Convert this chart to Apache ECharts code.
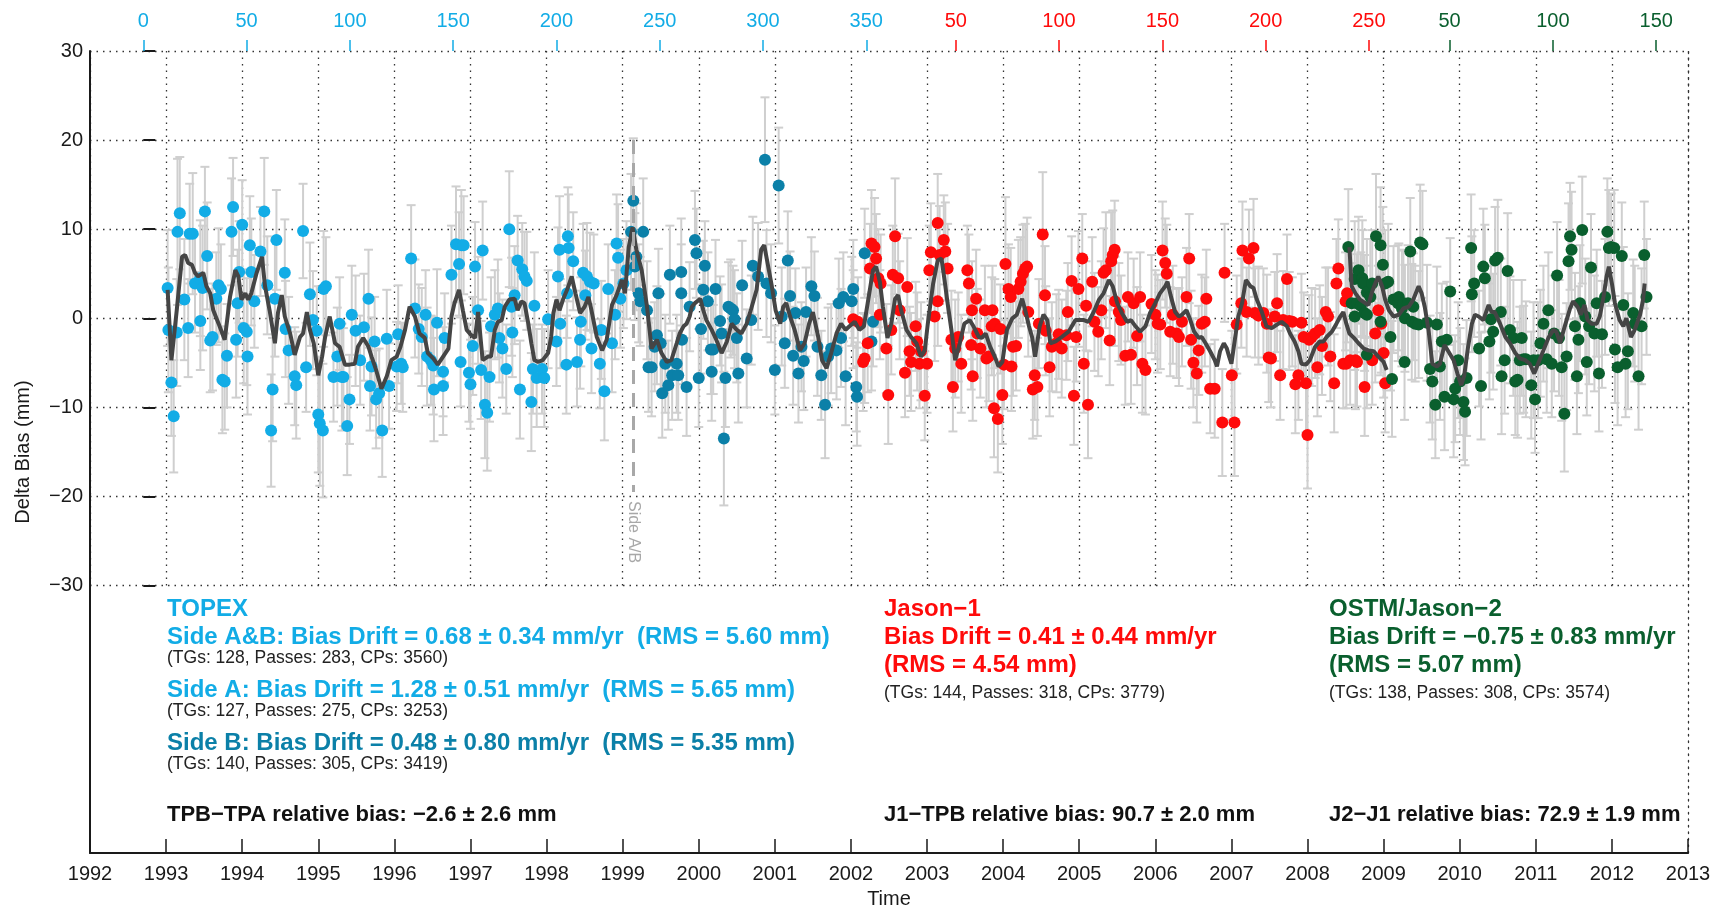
<!DOCTYPE html>
<html>
<head>
<meta charset="utf-8">
<script src="https://cdn.jsdelivr.net/npm/echarts@6/dist/echarts.min.js"></script>
<style>html,body{margin:0;background:#fff}#chart{width:1719px;height:910px}</style>
</head>
<body>
<div id="chart"></div>
<script>
// [year, delta bias (mm), error half-width (mm)]
const topexA = [[1993.02,3.4,6.5],[1993.03,-1.3,7.0],[1993.07,-7.2,6.0],[1993.10,-11.0,6.3],[1993.14,-1.6,6.0],[1993.15,9.7,8.2],[1993.18,11.8,6.3],[1993.24,2.1,6.8],[1993.29,-1.1,5.5],[1993.31,9.5,5.6],[1993.35,9.5,6.8],[1993.38,3.9,5.5],[1993.45,4.5,6.5],[1993.45,-0.3,5.5],[1993.48,3.4,7.0],[1993.51,12.0,5.0],[1993.54,7.0,6.0],[1993.58,-2.5,5.8],[1993.61,-2.1,6.0],[1993.66,2.2,5.2],[1993.69,3.7,6.4],[1993.72,3.3,5.0],[1993.74,-6.9,6.0],[1993.77,-7.1,5.4],[1993.80,-4.2,5.8],[1993.86,9.7,6.0],[1993.88,12.5,5.5],[1993.92,-2.4,6.5],[1993.94,1.7,6.0],[1993.96,5.2,5.7],[1994.00,10.5,5.0],[1994.02,-1.1,6.2],[1994.06,-1.5,6.0],[1994.07,-4.3,6.5],[1994.10,8.2,5.5],[1994.12,5.2,6.0],[1994.16,1.9,5.2],[1994.24,7.5,5.0],[1994.29,12.0,6.0],[1994.33,3.7,5.5],[1994.38,-12.6,6.3],[1994.40,-8.0,5.8],[1994.43,2.2,6.5],[1994.45,8.8,5.6],[1994.56,5.1,6.0],[1994.57,-1.2,5.4],[1994.61,-3.6,6.0],[1994.69,-6.5,5.5],[1994.71,-7.5,6.0],[1994.80,9.8,5.3],[1994.84,-5.5,5.0],[1994.89,2.7,5.8],[1994.93,-0.2,5.5],[1994.98,-1.4,5.0],[1995.00,-10.8,6.5],[1995.02,-11.8,7.0],[1995.06,-12.6,7.5],[1995.07,3.3,6.5],[1995.10,3.6,5.5],[1995.20,-6.6,5.0],[1995.25,-4.3,5.5],[1995.28,-0.6,5.2],[1995.31,-6.6,6.0],[1995.33,-6.6,5.5],[1995.38,-12.1,5.5],[1995.41,-9.1,5.0],[1995.44,0.4,5.5],[1995.49,-1.4,6.2],[1995.55,-4.7,5.0],[1995.60,-1.0,6.0],[1995.66,2.2,5.5],[1995.68,-7.6,5.0],[1995.70,-5.4,5.5],[1995.74,-2.6,5.0],[1995.76,-9.1,5.5],[1995.80,-8.4,5.0],[1995.84,-12.6,5.2],[1995.90,-2.3,5.5],[1995.93,-7.6,4.8],[1996.03,-5.4,5.0],[1996.05,-1.8,5.5],[1996.09,-5.1,4.5],[1996.11,-5.5,5.0],[1996.22,6.7,6.0],[1996.27,1.1,5.5],[1996.32,-1.2,5.0],[1996.36,-2.1,5.5],[1996.41,0.4,5.0],[1996.43,-4.3,5.5],[1996.48,-4.7,5.0],[1996.51,-5.3,5.5],[1996.52,-8.0,5.8],[1996.56,-0.5,6.0],[1996.64,-6.0,5.0],[1996.64,-7.6,5.5],[1996.66,-2.2,5.0],[1996.75,4.9,5.5],[1996.81,8.3,6.5],[1996.85,6.1,5.8],[1996.87,-4.9,5.0],[1996.88,8.2,6.2],[1996.91,8.2,5.5],[1996.98,-6.1,5.5],[1997.00,-7.4,5.0],[1997.03,-3.1,5.5],[1997.06,5.8,5.0],[1997.10,0.9,6.0],[1997.14,-5.8,5.5],[1997.16,7.6,5.5],[1997.19,-9.7,6.0],[1997.22,-10.6,6.5],[1997.25,-6.6,5.0],[1997.27,-0.9,5.5],[1997.32,0.4,5.0],[1997.36,1.1,5.5],[1997.38,-2.2,5.0],[1997.42,-3.4,5.5],[1997.47,-5.7,5.0],[1997.51,10.0,6.5],[1997.54,1.3,5.5],[1997.55,-1.6,5.0],[1997.58,2.6,5.5],[1997.62,6.5,5.0],[1997.65,-8.0,5.5],[1997.68,5.5,5.2],[1997.71,4.7,5.0],[1997.74,4.2,5.5],[1997.80,-9.4,5.5],[1997.82,-5.7,5.0],[1997.84,1.4,6.0],[1997.87,-6.7,5.5],[1997.94,-5.7,5.0],[1997.97,-6.7,5.5],[1998.02,-0.1,5.5],[1998.13,-2.6,5.0],[1998.15,4.7,5.5],[1998.17,7.7,6.0],[1998.18,-0.6,5.0],[1998.26,-5.2,5.5],[1998.27,2.8,5.0],[1998.28,9.2,5.5],[1998.29,7.9,6.0],[1998.35,6.4,5.5],[1998.40,-4.9,5.0],[1998.44,-2.4,5.5],[1998.45,-0.4,5.0],[1998.48,5.1,5.5],[1998.51,2.6,5.0],[1998.53,4.7,6.0],[1998.57,4.1,5.5],[1998.59,-3.4,5.0],[1998.62,3.9,5.5],[1998.70,-5.1,5.0],[1998.72,-1.3,5.5],[1998.76,-8.2,5.5],[1998.81,3.3,5.0],[1998.86,-2.8,5.5],[1998.90,0.4,5.0],[1998.92,8.4,5.5],[1998.94,6.8,6.0],[1998.97,2.2,5.5],[1999.01,3.9,5.0],[1999.05,5.4,5.5]];

const topexB = [[1999.11,9.7,6.5],[1999.14,13.2,7.0],[1999.16,5.8,6.0],[1999.18,6.9,6.0],[1999.21,2.8,5.5],[1999.23,1.9,5.0],[1999.27,9.7,6.0],[1999.32,0.9,5.5],[1999.34,-5.5,5.0],[1999.38,-5.5,5.5],[1999.42,-3.2,5.0],[1999.45,-1.9,5.5],[1999.47,2.8,5.0],[1999.50,-2.8,5.5],[1999.52,-8.4,5.0],[1999.56,-5.1,5.5],[1999.60,-7.5,5.0],[1999.62,4.9,5.5],[1999.65,-6.4,5.0],[1999.71,-5.1,5.5],[1999.73,-6.4,5.0],[1999.77,5.2,6.0],[1999.77,2.8,5.5],[1999.78,-2.4,5.0],[1999.84,-7.7,5.5],[1999.88,1.3,5.0],[1999.95,8.8,5.5],[1999.97,7.3,5.0],[2000.00,-6.7,5.5],[2000.03,-1.2,5.0],[2000.06,3.2,5.5],[2000.08,5.9,5.0],[2000.12,1.9,5.5],[2000.16,-3.5,5.0],[2000.17,-6.0,5.5],[2000.19,-3.5,5.0],[2000.22,3.3,5.5],[2000.28,-0.3,5.0],[2000.30,-1.7,5.5],[2000.33,-13.5,7.5],[2000.35,-6.7,5.5],[2000.39,1.3,5.0],[2000.42,1.1,5.5],[2000.45,0.9,5.0],[2000.47,-0.1,5.5],[2000.50,-2.2,5.0],[2000.52,-6.2,5.5],[2000.57,3.7,5.0],[2000.63,-4.5,5.5],[2000.69,-0.2,5.0],[2000.71,5.9,5.5],[2000.78,4.7,6.0],[2000.87,17.8,7.0],[2000.89,3.9,6.0],[2000.95,2.8,5.5],[2001.00,-5.8,5.0],[2001.05,14.9,6.5],[2001.09,0.2,5.5],[2001.13,-2.8,5.0],[2001.17,6.5,5.5],[2001.20,2.5,5.0],[2001.24,-4.2,5.5],[2001.27,0.6,5.0],[2001.31,-6.2,5.5],[2001.35,-3.2,5.0],[2001.38,-4.8,5.5],[2001.41,0.7,5.0],[2001.48,3.6,5.5],[2001.52,2.5,5.0],[2001.56,-3.2,5.5],[2001.61,-6.4,5.0],[2001.66,-9.7,6.0],[2001.70,-4.3,5.5],[2001.74,-3.4,5.0],[2001.81,-3.6,5.5],[2001.84,1.7,5.0],[2001.87,-2.2,5.5],[2001.90,2.4,5.0],[2001.93,-6.5,5.5],[2002.01,1.9,5.0],[2002.03,3.3,5.5],[2002.07,-7.7,5.0],[2002.08,-8.8,5.5],[2002.18,7.3,5.0],[2002.27,-2.6,5.5],[2002.29,-0.4,5.0]];

const jason1 = [[2002.03,-0.1,5.5],[2002.09,-0.4,5.0],[2002.16,-4.9,5.5],[2002.18,-4.5,5.0],[2002.22,-2.8,5.5],[2002.25,5.6,5.0],[2002.27,8.4,6.0],[2002.31,8.0,5.5],[2002.33,6.7,5.0],[2002.36,4.5,5.5],[2002.38,0.4,5.0],[2002.39,3.9,5.5],[2002.465,-3.4,5.0],[2002.49,-8.6,5.5],[2002.53,-1.3,5.0],[2002.55,4.9,5.5],[2002.58,9.2,6.5],[2002.62,4.5,5.0],[2002.64,0.9,5.5],[2002.71,-6.1,5.0],[2002.74,3.5,5.5],[2002.77,-3.7,5.0],[2002.79,-4.9,5.5],[2002.85,-0.9,5.0],[2002.87,-2.6,5.5],[2002.90,-5.1,5.0],[2002.92,-3.7,5.5],[2002.97,-8.7,5.0],[2003.00,-5.1,5.5],[2003.03,5.4,5.0],[2003.05,7.4,5.5],[2003.10,0.2,5.0],[2003.14,10.7,5.5],[2003.14,1.9,5.0],[2003.165,7.1,5.5],[2003.22,8.8,5.0],[2003.24,7.5,5.5],[2003.27,5.6,5.0],[2003.32,-2.4,5.5],[2003.34,-7.7,5.0],[2003.37,-3.4,5.5],[2003.41,-2.1,5.0],[2003.45,-5.1,5.5],[2003.53,5.4,5.0],[2003.55,3.9,5.5],[2003.58,-3.0,5.0],[2003.59,0.9,5.5],[2003.60,-6.5,5.0],[2003.645,2.2,5.5],[2003.66,-1.7,5.0],[2003.70,-3.4,5.5],[2003.76,0.9,5.0],[2003.78,-4.5,5.5],[2003.81,-4.3,5.0],[2003.85,-0.9,5.5],[2003.86,0.9,5.0],[2003.88,-10.1,5.5],[2003.89,-0.6,5.0],[2003.93,-11.3,6.0],[2003.965,-1.2,5.0],[2003.99,-8.6,5.5],[2004.01,-5.2,5.0],[2004.03,6.1,7.5],[2004.07,3.3,5.0],[2004.10,2.4,5.5],[2004.11,-5.4,5.0],[2004.13,-3.2,5.5],[2004.17,-3.1,5.0],[2004.20,3.3,5.5],[2004.23,4.1,5.0],[2004.26,5.0,5.5],[2004.29,5.6,5.0],[2004.315,5.8,5.5],[2004.33,0.7,5.0],[2004.39,-8.0,5.5],[2004.415,-6.4,5.0],[2004.45,-7.7,5.5],[2004.47,-0.6,5.0],[2004.52,9.4,7.0],[2004.55,2.6,5.5],[2004.56,-1.4,5.0],[2004.61,-5.5,5.5],[2004.64,-3.2,5.0],[2004.70,-2.8,5.5],[2004.73,-1.8,5.0],[2004.77,-3.4,5.5],[2004.83,-1.9,5.0],[2004.85,0.7,5.5],[2004.90,4.2,5.0],[2004.93,-8.7,5.5],[2004.96,-2.1,5.0],[2004.99,3.3,6.5],[2005.04,6.7,5.0],[2005.06,-5.1,5.5],[2005.09,1.4,5.0],[2005.115,-9.7,6.0],[2005.17,4.1,5.0],[2005.20,-0.4,5.5],[2005.25,-1.5,5.0],[2005.29,0.9,5.5],[2005.32,5.1,5.0],[2005.35,5.4,6.5],[2005.40,-2.5,5.0],[2005.42,6.4,5.5],[2005.44,7.1,5.0],[2005.465,7.7,5.5],[2005.47,1.9,5.0],[2005.52,0.7,5.5],[2005.55,-0.2,5.0],[2005.605,-4.2,5.5],[2005.64,2.4,5.0],[2005.68,-4.1,5.5],[2005.715,1.7,5.0],[2005.76,-2.0,5.5],[2005.80,2.4,5.0],[2005.83,-5.1,5.5],[2005.87,-5.8,5.0],[2005.95,1.6,5.5],[2006.00,0.4,5.0],[2006.03,-0.6,5.5],[2006.065,-0.7,5.0],[2006.095,7.6,5.5],[2006.13,6.2,5.0],[2006.15,5.0,5.5],[2006.195,-1.5,5.0],[2006.23,0.4,5.5],[2006.28,-1.7,5.0],[2006.31,-2.1,5.5],[2006.35,-0.4,5.0],[2006.41,2.4,5.5],[2006.445,6.7,5.0],[2006.47,-2.4,5.5],[2006.50,-5.0,5.0],[2006.545,-6.2,5.5],[2006.57,-3.6,5.0],[2006.61,-0.6,5.5],[2006.65,-0.4,5.0],[2006.67,2.2,5.5],[2006.72,-7.9,5.0],[2006.78,-7.9,5.5],[2006.88,-11.7,6.0],[2006.91,5.1,5.5],[2007.005,-6.4,5.0],[2007.04,-11.7,6.0],[2007.07,-0.7,5.5],[2007.13,1.7,5.0],[2007.145,7.6,5.5],[2007.20,0.7,5.0],[2007.23,6.7,5.5],[2007.29,7.9,5.5],[2007.31,0.6,5.0],[2007.355,0.3,5.5],[2007.42,0.6,5.0],[2007.465,-0.6,5.5],[2007.49,-4.4,5.0],[2007.52,-4.5,5.5],[2007.57,0.2,5.0],[2007.60,1.7,5.5],[2007.64,-6.4,5.0],[2007.68,-0.2,5.5],[2007.73,4.4,5.0],[2007.76,-0.3,5.5],[2007.80,-0.4,5.0],[2007.84,-7.4,5.5],[2007.88,-6.4,5.0],[2007.92,-0.5,5.5],[2007.95,-2.1,5.0],[2007.98,-7.3,5.5],[2008.00,-13.1,6.0],[2008.02,-2.4,5.0],[2008.055,-2.1,5.5],[2008.10,-1.7,5.0],[2008.13,-5.5,5.5],[2008.16,-1.3,5.0],[2008.19,-3.1,5.5],[2008.24,0.7,5.0],[2008.27,0.2,5.5],[2008.30,-4.3,5.0],[2008.35,-7.3,5.5],[2008.38,3.9,5.0],[2008.405,5.6,5.5],[2008.47,-5.1,5.0],[2008.50,1.9,5.5],[2008.51,-5.1,5.0],[2008.52,2.8,5.5],[2008.56,-4.7,5.0],[2008.63,-4.7,5.5],[2008.65,-4.9,5.0],[2008.75,-7.7,5.5],[2008.85,-4.7,5.0],[2008.89,-1.7,5.5],[2008.93,0.9,5.0],[2008.97,-0.6,5.5],[2009.00,-3.9,5.0],[2009.02,-7.3,5.5]];

const jason2 = [[2008.536,8.0,6.5],[2008.58,1.7,6.0],[2008.62,4.4,6.5],[2008.62,0.2,6.0],[2008.65,1.7,5.5],[2008.67,5.4,6.0],[2008.70,1.4,6.0],[2008.72,4.5,6.5],[2008.73,3.9,6.0],[2008.75,0.6,6.5],[2008.78,2.9,6.0],[2008.78,0.4,5.5],[2008.78,-4.1,6.0],[2008.825,2.4,6.5],[2008.85,3.9,6.0],[2008.90,9.2,7.0],[2008.96,8.2,6.5],[2008.96,-0.4,6.0],[2008.99,6.0,6.5],[2009.02,3.9,6.0],[2009.06,4.1,6.5],[2009.09,-2.1,6.0],[2009.11,-6.8,6.5],[2009.13,2.1,6.0],[2009.19,1.7,6.5],[2009.20,2.4,6.0],[2009.24,1.1,6.5],[2009.26,1.7,6.0],[2009.275,-4.9,6.5],[2009.28,0.0,6.0],[2009.32,1.7,6.5],[2009.35,7.5,6.0],[2009.37,-0.4,6.5],[2009.39,1.3,6.0],[2009.415,-0.6,6.5],[2009.46,-0.7,6.0],[2009.48,8.5,6.5],[2009.51,8.3,6.0],[2009.57,-0.5,6.5],[2009.61,-5.7,6.0],[2009.64,-7.1,6.5],[2009.68,-9.7,6.0],[2009.70,-0.7,6.5],[2009.74,-5.4,6.0],[2009.765,-2.6,6.5],[2009.80,-8.8,6.0],[2009.83,-2.4,6.5],[2009.875,3.0,6.0],[2009.92,-9.1,6.5],[2009.94,-7.9,6.0],[2009.98,-4.7,6.5],[2010.005,-7.1,6.0],[2010.05,-9.4,6.5],[2010.07,-10.5,6.0],[2010.09,-6.7,6.5],[2010.15,7.9,6.0],[2010.16,2.7,6.5],[2010.19,3.9,6.0],[2010.255,-3.4,6.5],[2010.28,-7.6,6.0],[2010.31,5.8,6.5],[2010.33,4.5,6.0],[2010.39,-2.6,6.5],[2010.41,-0.1,6.0],[2010.44,-1.5,6.5],[2010.465,6.5,6.0],[2010.50,6.8,6.5],[2010.54,0.7,6.0],[2010.55,-6.5,6.5],[2010.59,-4.7,6.0],[2010.63,5.3,6.5],[2010.66,-1.3,6.0],[2010.705,-2.2,6.5],[2010.73,-7.1,6.0],[2010.76,-6.9,6.5],[2010.79,-4.7,6.0],[2010.815,-2.2,6.5],[2010.84,-4.6,6.0],[2010.87,-4.6,6.5],[2010.94,-7.5,6.0],[2010.97,-4.7,6.5],[2010.99,-9.1,6.0],[2011.03,-4.7,6.5],[2011.06,-2.8,6.0],[2011.10,-0.6,6.5],[2011.143,-4.6,6.0],[2011.165,0.9,6.5],[2011.21,-5.1,6.0],[2011.24,-1.7,6.5],[2011.28,4.8,6.0],[2011.305,-2.2,6.5],[2011.34,-5.5,6.0],[2011.375,-10.7,6.5],[2011.405,-4.3,6.0],[2011.43,6.4,6.5],[2011.45,9.2,6.0],[2011.47,7.7,6.5],[2011.515,-0.9,6.0],[2011.54,-6.5,6.5],[2011.56,-2.4,6.0],[2011.58,1.7,6.5],[2011.61,9.9,6.0],[2011.65,0.2,6.5],[2011.67,-4.9,6.0],[2011.70,-0.9,6.5],[2011.725,5.7,6.0],[2011.77,-1.7,6.5],[2011.80,1.7,6.0],[2011.83,-6.2,6.5],[2011.87,-1.8,6.0],[2011.91,2.4,6.5],[2011.94,9.7,6.0],[2011.96,7.9,6.5],[2011.99,8.0,6.0],[2012.03,7.9,6.5],[2012.04,-3.5,6.0],[2012.075,-5.5,6.5],[2012.13,7.0,6.0],[2012.15,1.5,6.5],[2012.18,-5.1,6.0],[2012.21,-3.7,6.5],[2012.28,0.6,6.0],[2012.30,-0.6,6.5],[2012.35,-6.5,6.0],[2012.39,-0.9,6.5],[2012.425,7.1,6.0],[2012.455,2.4,6.5]];

// smoothed curves [year, mm]
const smoothTopexJ1 = [[1993.02,3.2],[1993.07,-4.7],[1993.14,0.9],[1993.21,6.9],[1993.25,7.1],[1993.29,6.2],[1993.34,6.0],[1993.38,5.1],[1993.42,4.7],[1993.49,5.1],[1993.53,3.6],[1993.58,2.8],[1993.62,0.9],[1993.69,-0.6],[1993.77,-2.4],[1993.84,2.4],[1993.91,5.4],[1993.95,4.7],[1993.99,2.1],[1994.04,2.8],[1994.08,2.1],[1994.12,2.8],[1994.19,5.1],[1994.26,6.9],[1994.30,3.6],[1994.36,0.9],[1994.43,-2.8],[1994.47,0.6],[1994.52,2.6],[1994.56,0.2],[1994.63,-1.7],[1994.69,-4.1],[1994.76,-2.1],[1994.80,-1.7],[1994.85,0.7],[1994.89,-1.3],[1994.94,-2.8],[1995.00,-6.4],[1995.05,-4.3],[1995.09,-2.1],[1995.15,0.2],[1995.22,-2.8],[1995.28,-3.2],[1995.35,-5.2],[1995.41,-5.2],[1995.48,-5.1],[1995.52,-3.2],[1995.59,-2.2],[1995.66,-3.2],[1995.70,-4.3],[1995.76,-5.8],[1995.83,-7.9],[1995.90,-6.5],[1995.96,-4.7],[1996.03,-4.3],[1996.08,-3.2],[1996.14,-1.3],[1996.20,1.3],[1996.27,0.2],[1996.33,-1.7],[1996.40,-2.2],[1996.44,-3.9],[1996.51,-4.5],[1996.57,-5.2],[1996.64,-4.3],[1996.71,-3.4],[1996.75,0.2],[1996.79,1.7],[1996.85,3.2],[1996.90,0.9],[1996.95,-1.3],[1997.01,-1.9],[1997.06,-2.2],[1997.10,0.7],[1997.16,-4.7],[1997.23,-4.3],[1997.27,-4.3],[1997.32,-1.3],[1997.36,-0.4],[1997.41,-0.2],[1997.45,1.3],[1997.51,2.1],[1997.58,2.2],[1997.62,0.9],[1997.67,1.9],[1997.71,1.7],[1997.76,-0.6],[1997.80,-2.8],[1997.84,-4.7],[1997.89,-4.9],[1997.95,-4.7],[1998.02,-3.9],[1998.06,-2.1],[1998.09,0.6],[1998.13,2.1],[1998.17,0.9],[1998.22,2.2],[1998.27,3.2],[1998.33,4.7],[1998.38,2.8],[1998.44,0.6],[1998.50,1.3],[1998.55,2.4],[1998.59,0.9],[1998.66,-2.1],[1998.73,-3.6],[1998.79,-2.4],[1998.86,1.5],[1998.92,2.6],[1998.99,4.3],[1999.03,2.8],[1999.08,8.0],[1999.13,10.2],[1999.18,7.7],[1999.25,5.4],[1999.32,1.3],[1999.38,-3.4],[1999.45,-2.4],[1999.51,-3.9],[1999.58,-4.9],[1999.64,-4.7],[1999.71,-2.8],[1999.75,-1.7],[1999.80,-0.9],[1999.84,-0.6],[1999.88,0.2],[1999.91,1.3],[1999.95,1.7],[2000.02,2.2],[2000.06,0.9],[2000.10,-0.2],[2000.17,-1.3],[2000.23,-2.4],[2000.30,-3.9],[2000.37,-2.6],[2000.43,-0.6],[2000.50,-1.3],[2000.56,-1.7],[2000.63,-0.6],[2000.69,1.1],[2000.76,3.2],[2000.82,7.7],[2000.86,8.2],[2000.90,6.4],[2000.96,3.6],[2001.01,0.9],[2001.07,-0.6],[2001.11,1.3],[2001.15,1.7],[2001.20,0.2],[2001.26,-1.3],[2001.33,-3.6],[2001.39,-2.8],[2001.45,-0.6],[2001.50,0.7],[2001.57,-2.1],[2001.62,-4.7],[2001.68,-5.6],[2001.74,-3.9],[2001.81,-1.7],[2001.87,-0.6],[2001.93,-1.3],[2001.98,-0.9],[2002.05,-0.4],[2002.11,-1.3],[2002.17,-0.9],[2002.22,1.7],[2002.29,5.4],[2002.33,5.8],[2002.38,4.1],[2002.42,1.3],[2002.48,-2.2],[2002.53,-0.6],[2002.58,2.2],[2002.62,2.6],[2002.66,0.9],[2002.73,-1.3],[2002.79,-2.1],[2002.86,-2.8],[2002.92,-4.3],[2002.97,-3.6],[2003.01,-0.6],[2003.08,3.9],[2003.14,6.5],[2003.19,6.7],[2003.23,4.3],[2003.27,1.7],[2003.32,-1.3],[2003.37,-4.7],[2003.43,-2.8],[2003.49,-0.6],[2003.56,-0.2],[2003.61,-0.9],[2003.68,-2.1],[2003.72,-2.2],[2003.77,-1.7],[2003.83,-3.2],[2003.89,-4.3],[2003.94,-5.4],[2003.99,-4.9],[2004.05,-1.3],[2004.12,0.0],[2004.18,0.4],[2004.25,2.2],[2004.29,0.9],[2004.34,-0.9],[2004.38,-2.1],[2004.42,-4.3],[2004.48,-0.9],[2004.53,0.4],[2004.58,-0.2],[2004.62,-2.8],[2004.69,-2.6],[2004.77,-2.1],[2004.86,-1.5],[2004.95,-0.2],[2005.06,-0.2],[2005.12,-0.4],[2005.19,0.7],[2005.26,2.1],[2005.32,2.8],[2005.39,4.3],[2005.44,3.6],[2005.50,1.7],[2005.56,0.6],[2005.63,-0.4],[2005.68,-0.2],[2005.74,-0.9],[2005.80,-1.5],[2005.87,-0.9],[2005.93,0.6],[2006.00,1.7],[2006.06,2.8],[2006.13,3.6],[2006.16,4.1],[2006.20,2.6],[2006.26,0.7],[2006.31,0.2],[2006.35,0.4],[2006.41,0.9],[2006.46,-0.2],[2006.51,-1.5],[2006.57,-2.2],[2006.61,-2.1],[2006.66,-2.8],[2006.72,-3.7],[2006.78,-4.7],[2006.81,-5.4],[2006.85,-3.7],[2006.90,-2.8],[2006.94,-3.4],[2006.97,-4.3],[2007.00,-5.1],[2007.05,-2.1],[2007.09,0.2],[2007.14,1.7],[2007.19,4.3],[2007.25,3.6],[2007.29,3.4],[2007.33,2.2],[2007.40,0.7],[2007.46,-0.9],[2007.53,-1.1],[2007.60,-0.7],[2007.66,-0.4],[2007.73,-0.9],[2007.77,-1.7],[2007.83,-2.6],[2007.88,-3.7],[2007.92,-5.1],[2007.98,-5.2],[2008.03,-4.7],[2008.10,-3.2],[2008.16,-2.6],[2008.21,-2.6],[2008.25,-2.1],[2008.32,-1.5],[2008.38,-0.6],[2008.43,0.2],[2008.47,0.7],[2008.51,-0.6],[2008.55,-1.7],[2008.61,-2.2],[2008.67,-2.8],[2008.74,-3.4],[2008.80,-3.6],[2008.87,-3.7],[2008.93,-4.3],[2009.00,-4.9],[2009.04,-5.8]];

const smoothJason2 = [[2008.55,8.0],[2008.58,3.6],[2008.63,2.8],[2008.69,2.1],[2008.76,1.7],[2008.80,1.5],[2008.85,3.0],[2008.89,3.9],[2008.93,4.7],[2008.98,3.6],[2009.02,2.1],[2009.07,0.9],[2009.13,0.2],[2009.20,0.4],[2009.26,1.1],[2009.33,1.3],[2009.39,2.1],[2009.46,3.6],[2009.50,2.8],[2009.54,1.3],[2009.59,-1.3],[2009.64,-5.1],[2009.70,-5.4],[2009.74,-5.1],[2009.80,-3.0],[2009.85,-3.7],[2009.92,-4.7],[2009.97,-6.2],[2010.02,-7.5],[2010.06,-6.4],[2010.11,-3.2],[2010.16,-0.6],[2010.20,0.4],[2010.25,0.2],[2010.31,-0.2],[2010.38,1.5],[2010.42,0.7],[2010.46,0.7],[2010.53,-0.6],[2010.60,-2.1],[2010.66,-2.8],[2010.73,-3.9],[2010.79,-4.5],[2010.86,-4.7],[2010.92,-5.1],[2010.98,-6.2],[2011.03,-5.1],[2011.10,-3.6],[2011.165,-2.2],[2011.23,-1.3],[2011.27,-1.5],[2011.32,-2.8],[2011.38,-0.9],[2011.45,1.1],[2011.49,1.9],[2011.55,1.3],[2011.59,0.4],[2011.64,1.5],[2011.68,-0.2],[2011.73,-0.6],[2011.80,-0.6],[2011.84,0.2],[2011.89,2.4],[2011.93,4.7],[2011.96,5.8],[2012.00,3.9],[2012.04,1.7],[2012.10,-0.2],[2012.15,-0.9],[2012.19,0.0],[2012.25,-2.1],[2012.30,-1.3],[2012.37,0.4],[2012.41,2.1],[2012.43,3.9]];

// top axes: repeat-cycle numbers (cycle 0 epoch in years, ~9.9156 day cycles)
const topexCycles = [0, 50, 100, 150, 200, 250, 300, 350];
const jason1Cycles = [50, 100, 150, 200, 250];
const jason2Cycles = [50, 100, 150];
const cycleZero = { topex: 1992.70, jason1: 2002.02, jason2: 2008.51 };
const cyclesPerYear = 365.25 / 9.9156;
const sideSwitchYear = 1999.14;

const YEAR_MIN = 1992, YEAR_MAX = 2013;
const C_TA = '#12ace6', C_TB = '#0b80a8', C_J1 = '#ff0a0a', C_J2 = '#0a5f2e';
const FONT = '"Liberation Sans", Arial, Helvetica, sans-serif';
const dotted = { color: '#333', width: 1.3, type: [1.5, 5] };

const chart = echarts.init(document.getElementById('chart'));

function cycleAxis(key, ticks, color) {
  const z = cycleZero[key];
  return {
    type: 'value', gridIndex: 0, position: 'top',
    min: (YEAR_MIN - z) * cyclesPerYear, max: (YEAR_MAX - z) * cyclesPerYear,
    axisLine: { show: false }, splitLine: { show: false },
    axisTick: { show: true, customValues: ticks, length: 11, lineStyle: { color, width: 1.5 } },
    axisLabel: { show: true, customValues: ticks, color, fontSize: 20, fontFamily: FONT, margin: 20 }
  };
}

function renderErr(params, api) {
  const t = api.value(0), v = api.value(1), e = api.value(2);
  const a = api.coord([t, v + e]), b = api.coord([t, v - e]);
  const w = 4.5;
  const style = { stroke: '#cfcfcf', lineWidth: 2, fill: null };
  return {
    type: 'group',
    children: [
      { type: 'line', shape: { x1: a[0], y1: a[1], x2: b[0], y2: b[1] }, style },
      { type: 'line', shape: { x1: a[0] - w, y1: a[1], x2: a[0] + w, y2: a[1] }, style },
      { type: 'line', shape: { x1: b[0] - w, y1: b[1], x2: b[0] + w, y2: b[1] }, style }
    ]
  };
}

function dots(name, data, color) {
  return {
    name, type: 'scatter', xAxisIndex: 0, yAxisIndex: 0, data,
    encode: { x: 0, y: 1 }, symbolSize: 12, itemStyle: { color, opacity: 1 }, z: 3
  };
}

const minus = v => (v < 0 ? '\u2212' + Math.abs(v) : String(v));

const option = {
  animation: false,
  backgroundColor: '#fff',
  textStyle: { fontFamily: FONT },
  grid: [
    { left: 90, right: 31, top: 51, bottom: 324.4, outerBoundsMode: 'none' },
    { left: 90, right: 31, top: 51, bottom: 57, outerBoundsMode: 'none' }
  ],
  xAxis: [
    {
      type: 'value', gridIndex: 0, min: YEAR_MIN, max: YEAR_MAX, interval: 1,
      axisLine: { show: false }, axisTick: { show: false }, axisLabel: { show: false },
      splitLine: { show: true, lineStyle: dotted }
    },
    cycleAxis('topex', topexCycles, C_TA),
    cycleAxis('jason1', jason1Cycles, C_J1),
    cycleAxis('jason2', jason2Cycles, C_J2),
    {
      type: 'value', gridIndex: 1, min: YEAR_MIN, max: YEAR_MAX, interval: 1, position: 'bottom',
      axisLine: { show: true, onZero: false, lineStyle: { color: '#1a1a1a', width: 2 } },
      axisTick: { show: true, inside: true, length: 14, lineStyle: { color: '#1a1a1a', width: 1.5 } },
      axisLabel: { show: true, color: '#1a1a1a', fontSize: 20, fontFamily: FONT, margin: 11, formatter: v => String(v) },
      splitLine: { show: false },
      name: 'Time', nameLocation: 'middle', nameGap: 36,
      nameTextStyle: { color: '#1a1a1a', fontSize: 20, fontFamily: FONT }
    }
  ],
  yAxis: [
    {
      type: 'value', gridIndex: 0, min: -30, max: 30, interval: 10,
      axisLine: { show: false },
      axisTick: { show: true, inside: true, length: 12, lineStyle: { color: '#1a1a1a', width: 2 } },
      axisLabel: { show: true, color: '#1a1a1a', fontSize: 20, fontFamily: FONT, margin: 7, formatter: minus },
      splitLine: { show: true, lineStyle: dotted }
    },
    {
      type: 'value', gridIndex: 1, min: 0, max: 1, position: 'left',
      axisLine: { show: true, onZero: false, lineStyle: { color: '#1a1a1a', width: 2 } },
      axisTick: { show: false }, axisLabel: { show: false }, splitLine: { show: false },
      name: 'Delta Bias (mm)', nameLocation: 'middle', nameGap: 57,
      nameTextStyle: { color: '#1a1a1a', fontSize: 20, fontFamily: FONT }
    },
    {
      type: 'value', gridIndex: 1, min: 0, max: 1, position: 'right',
      axisLine: { show: true, onZero: false, lineStyle: dotted },
      axisTick: { show: false }, axisLabel: { show: false }, splitLine: { show: false }
    }
  ],
  series: [
    {
      type: 'custom', xAxisIndex: 0, yAxisIndex: 0, renderItem: renderErr,
      data: topexA.concat(topexB, jason1, jason2), encode: { x: 0, y: 1 }, z: 1, silent: true
    },
    dots('TOPEX side A', topexA, C_TA),
    Object.assign(dots('TOPEX side B', topexB, C_TB), {
      markLine: {
        silent: true, symbol: ['none', 'none'], label: { show: false },
        lineStyle: { color: '#a8a8a8', width: 3, type: [14, 9] },
        data: [[{ coord: [sideSwitchYear, 20] }, { coord: [sideSwitchYear, -19.5] }]]
      }
    }),
    dots('Jason-1', jason1, C_J1),
    dots('OSTM/Jason-2', jason2, C_J2),
    {
      type: 'line', xAxisIndex: 0, yAxisIndex: 0, data: smoothTopexJ1, showSymbol: false,
      lineStyle: { color: '#454545', width: 4 }, z: 4, silent: true
    },
    {
      type: 'line', xAxisIndex: 0, yAxisIndex: 0, data: smoothJason2, showSymbol: false,
      lineStyle: { color: '#454545', width: 4 }, z: 4, silent: true
    }
  ]
};

chart.setOption(option);

// annotation block under the curves
function txt(x, y, text, color, size, bold) {
  return {
    type: 'text', x, y, silent: true,
    style: {
      text, fill: color, textAlign: 'left', textVerticalAlign: 'middle',
      font: (bold ? 'bold ' : '') + size + 'px ' + FONT
    }
  };
}
const abPx = chart.convertToPixel({ xAxisIndex: 0, yAxisIndex: 0 }, [sideSwitchYear, -20.5]);
const xT = 167, xJ1 = 884, xJ2 = 1329;
chart.setOption({
  graphic: [
    {
      type: 'text', x: abPx[0], y: abPx[1], rotation: -Math.PI / 2, silent: true,
      style: { text: 'Side A/B', fill: '#a8a8a8', textAlign: 'left', textVerticalAlign: 'middle', font: '16px ' + FONT }
    },
    txt(xT, 609.5, 'TOPEX', C_TA, 24, true),
    txt(xT, 637, 'Side A&B: Bias Drift = 0.68 \u00b1 0.34 mm/yr  (RMS = 5.60 mm)', C_TA, 24, true),
    txt(xT, 658, '(TGs: 128, Passes: 283, CPs: 3560)', '#222', 17.5, false),
    txt(xT, 690.7, 'Side A: Bias Drift = 1.28 \u00b1 0.51 mm/yr  (RMS = 5.65 mm)', C_TA, 24, true),
    txt(xT, 711.5, '(TGs: 127, Passes: 275, CPs: 3253)', '#222', 17.5, false),
    txt(xT, 743.3, 'Side B: Bias Drift = 0.48 \u00b1 0.80 mm/yr  (RMS = 5.35 mm)', C_TB, 24, true),
    txt(xT, 764, '(TGs: 140, Passes: 305, CPs: 3419)', '#222', 17.5, false),
    txt(xT, 814.5, 'TPB\u2212TPA relative bias: \u22122.6 \u00b1 2.6 mm', '#111', 22, true),
    txt(xJ1, 609.5, 'Jason\u22121', C_J1, 24, true),
    txt(xJ1, 637, 'Bias Drift = 0.41 \u00b1 0.44 mm/yr', C_J1, 24, true),
    txt(xJ1, 665.5, '(RMS = 4.54 mm)', C_J1, 24, true),
    txt(xJ1, 693, '(TGs: 144, Passes: 318, CPs: 3779)', '#222', 17.5, false),
    txt(xJ1, 814.5, 'J1\u2212TPB relative bias: 90.7 \u00b1 2.0 mm', '#111', 22, true),
    txt(xJ2, 609.5, 'OSTM/Jason\u22122', C_J2, 24, true),
    txt(xJ2, 637, 'Bias Drift = \u22120.75 \u00b1 0.83 mm/yr', C_J2, 24, true),
    txt(xJ2, 665.5, '(RMS = 5.07 mm)', C_J2, 24, true),
    txt(xJ2, 693, '(TGs: 138, Passes: 308, CPs: 3574)', '#222', 17.5, false),
    txt(xJ2, 814.5, 'J2\u2212J1 relative bias: 72.9 \u00b1 1.9 mm', '#111', 22, true)
  ]
});
</script>
</body>
</html>
